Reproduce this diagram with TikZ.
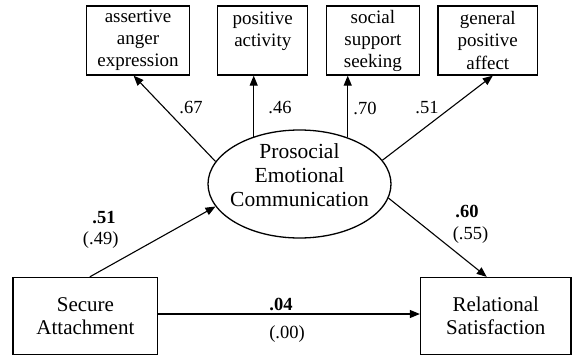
\documentclass[tikz,border=0pt]{standalone}
\usepackage{fontspec}
\setmainfont{Liberation Serif}
\usetikzlibrary{arrows.meta, calc, shapes.geometric}

\begin{document}
\begin{tikzpicture}[x=1pt, y=-1pt,
    indbox/.style={draw, line width=1.3pt, minimum width=#1, minimum height=69, inner sep=0, align=center, font=\fontsize{19}{22}\selectfont},
    varbox/.style={draw, line width=1.3pt, minimum width=#1, minimum height=77, inner sep=0, align=center, font=\fontsize{21}{22.5}\selectfont},
    path/.style={line width=1.1pt, -{Triangle[length=10pt, width=8pt]}},
    coef/.style={inner sep=0, font=\fontsize{18.5}{20}\selectfont},
    bcoef/.style={coef, font=\fontsize{18.5}{20}\selectfont\bfseries}]
    \useasboundingbox (0,0) rectangle (572,356);
    % indicators
    \node[indbox=103] (anger) at (138,40.5) {assertive\\anger\\expression};
    \node[indbox=90] (activity) at (262.8,40.5) {positive\\activity\\~};
    \node[indbox=93] (support) at (372.9,40.5) {social\\support\\seeking};
    \node[indbox=99.6] (affect) at (487.8,40.5) {general\\positive\\affect};
    % latent variable
    \node[draw, ellipse, line width=1.3pt, minimum width=183, minimum height=108, inner sep=0] (pec) at (299.5,184) {};
    \node[align=center, inner sep=0, font=\fontsize{21.5}{24}\selectfont] (pectext) at (299.5,175) {Prosocial\\Emotional\\Communication};
    % observed variables
    \node[varbox=144.7] (secure) at (85.4,316) {Secure\\Attachment};
    \node[varbox=150.5] (relsat) at (495.75,316) {Relational\\Satisfaction};
    % loadings
    \draw[path] (pec.165) -- ($(anger.south)+(-4.4,0)$);
    \draw[path] (pec.134) -- (pec.134 |- activity.south);
    \draw[path] (pec.44) -- (pec.44 |- support.south);
    \draw[path] (pec.16) -- ($(affect.south)+(5,0)$);
    \node[coef] (l1) at (191,108) {.67};
    \node[coef] (l2) at (280,108) {.46};
    \node[coef] (l3) at (365,108) {.70};
    \node[coef] (l4) at (427,108) {.51};
    % structural paths
    \draw[path] ($(secure.north)+(4.4,0)$) -- (pec.195);
    \draw[path] (pec.-9) -- ($(relsat.north)+(-9,0)$);
    \draw[path] ([yshift=2]secure.east) -- ([yshift=2]relsat.west);
    \node[bcoef] (a1) at (104,217.5) {.51};
    \node[coef] (a2) at (100.7,240) {(.49)};
    \node[bcoef] (b1) at (467,211) {.60};
    \node[coef] (b2) at (470.5,235) {(.55)};
    \node[bcoef] (c1) at (281,304) {.04};
    \node[coef] (c2) at (287,334) {(.00)};
\end{tikzpicture}
\end{document}
